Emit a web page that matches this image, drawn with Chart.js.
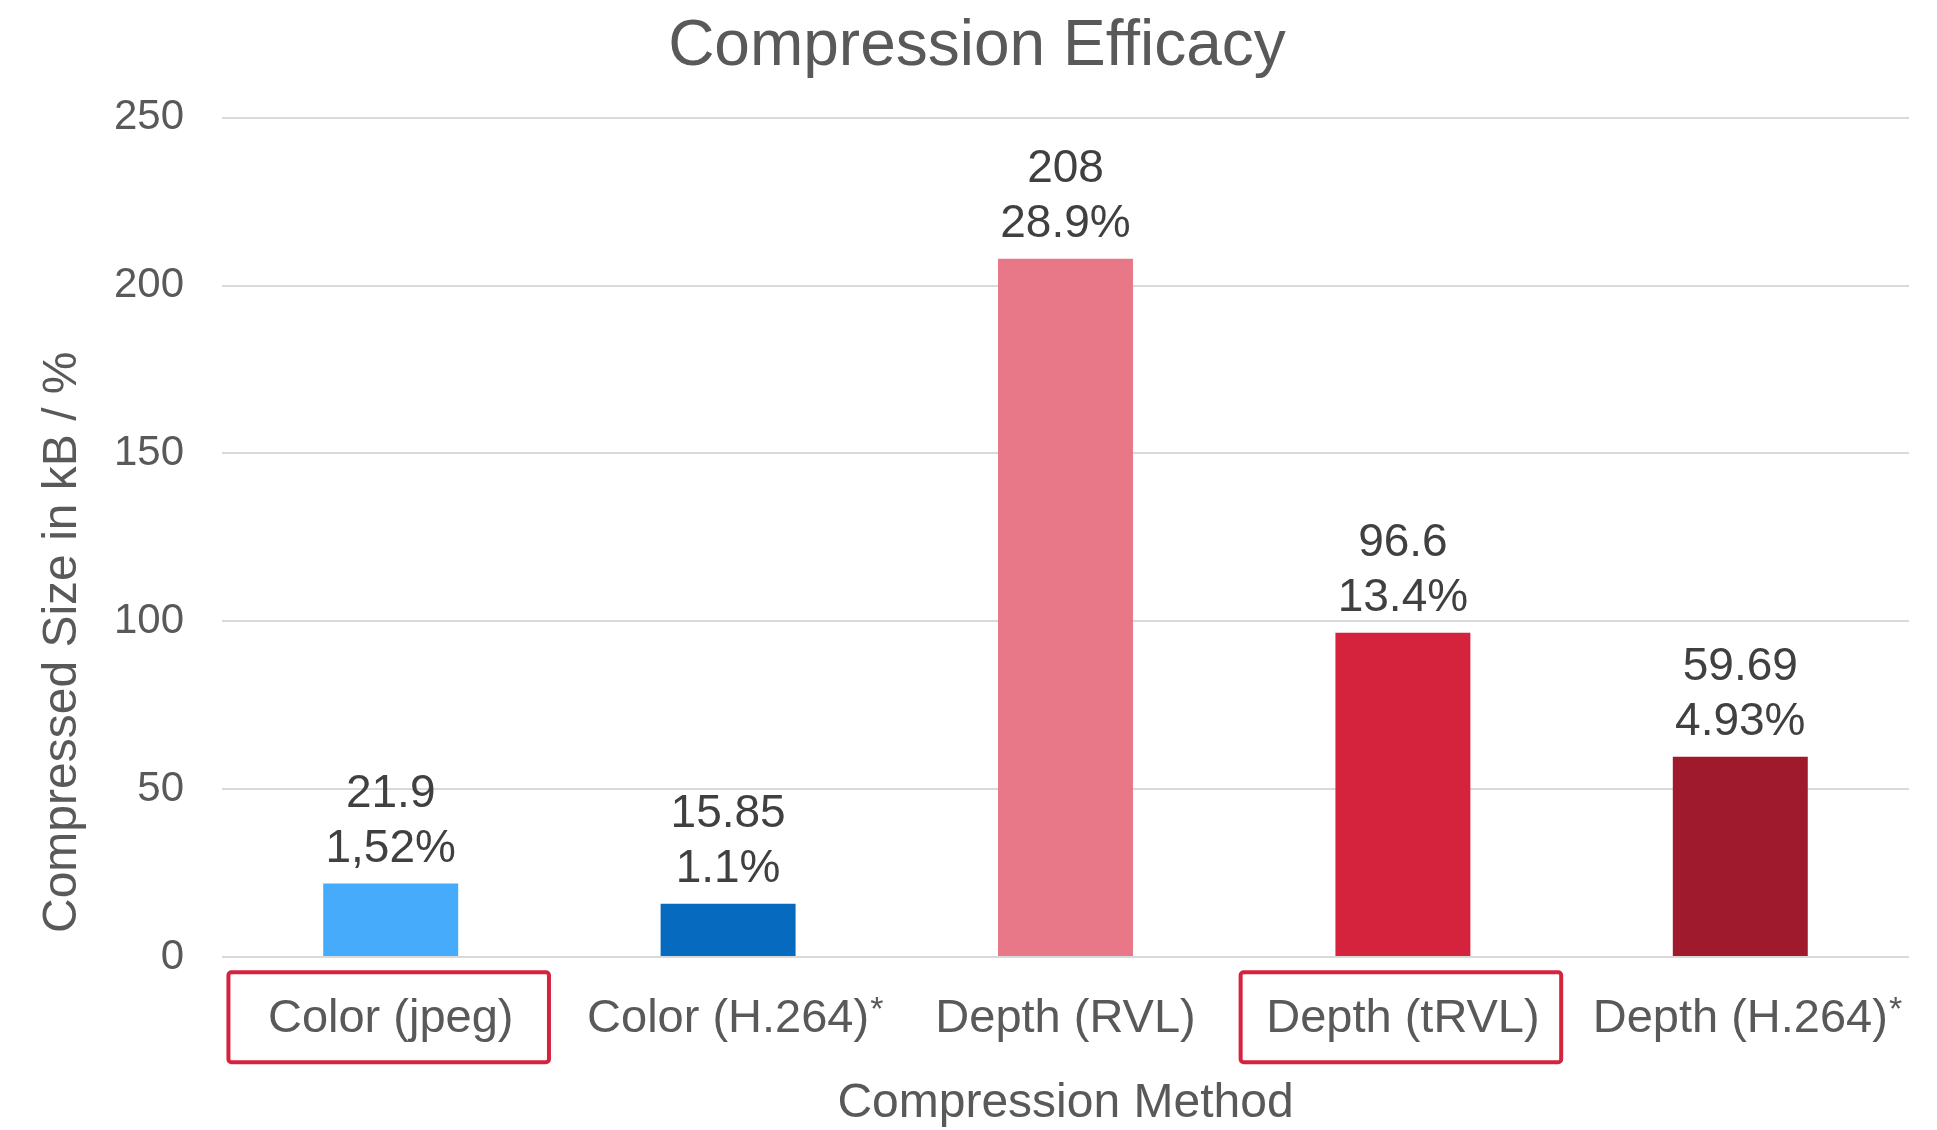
<!DOCTYPE html>
<html>
<head>
<meta charset="utf-8">
<title>Compression Efficacy</title>
<script src="https://cdn.jsdelivr.net/npm/chart.js@4"></script>
<style>
  html, body { margin: 0; padding: 0; background: #fff; }
  #wrap { width: 1937px; height: 1130px; position: relative; }
</style>
</head>
<body>
<div id="wrap"><canvas id="myChart"></canvas></div>
<script>
// data
const methods = ['Color (jpeg)', 'Color (H.264)*', 'Depth (RVL)', 'Depth (tRVL)', 'Depth (H.264)*'];
const sizes = [21.9, 15.85, 208, 96.6, 59.69];
const shares = ['1,52%', '1.1%', '28.9%', '13.4%', '4.93%'];
const barColors = ['#45ABFA', '#066ABE', '#E87887', '#D6233D', '#A01A2E'];
const boxed = ['Color (jpeg)', 'Depth (tRVL)'];
const yTicks = [0, 50, 100, 150, 200, 250];

const FONT = "'Liberation Sans', Arial, sans-serif";
const GREY = '#595959';

// value + percentage above bars, red boxes, superscript asterisks
const extras = {
  id: 'extras',
  afterDatasetsDraw(chart) {
    const ctx = chart.ctx;
    const meta = chart.getDatasetMeta(0);
    ctx.save();
    ctx.fillStyle = '#404040';
    ctx.font = '46px ' + FONT;
    ctx.textAlign = 'center';
    ctx.textBaseline = 'middle';
    meta.data.forEach((bar, i) => {
      ctx.fillText(String(sizes[i]), bar.x, bar.y - 89);
      ctx.fillText(shares[i], bar.x, bar.y - 34);
    });
    ctx.restore();
  },
  afterDraw(chart) {
    const ctx = chart.ctx;
    const x = chart.scales.x;
    const opts = x.options.ticks;
    const lh = 47 * 1.2;
    const midY = x.top + opts.padding + lh / 2;
    const catW = (x.right - x.left) / methods.length;
    ctx.save();
    methods.forEach((m, i) => {
      const cx = x.getPixelForValue(i);
      const label = m.replace('*', '');
      if (boxed.includes(m)) {
        const w = catW * 0.95, h = 90;
        ctx.strokeStyle = '#D6233D';
        ctx.lineWidth = 4;
        ctx.beginPath();
        ctx.roundRect(cx - 2 - w / 2, midY - 2 - h / 2, w, h, 3);
        ctx.stroke();
      }
      if (m.endsWith('*')) {
        ctx.font = '47px ' + FONT;
        const tw = ctx.measureText(label).width;
        ctx.font = '34px ' + FONT;
        ctx.fillStyle = GREY;
        ctx.textAlign = 'left';
        ctx.textBaseline = 'alphabetic';
        ctx.fillText('*', cx + tw / 2 + 1, midY + 1);
      }
    });
    ctx.restore();
  }
};

const ctx = document.getElementById('myChart').getContext('2d');
const chart = new Chart(ctx, {
  type: 'bar',
  data: {
    labels: methods,
    datasets: [{
      data: sizes,
      backgroundColor: barColors,
      borderWidth: 0,
      barPercentage: 0.4,
      categoryPercentage: 1.0
    }]
  },
  options: {
    responsive: true,
    maintainAspectRatio: false,
    devicePixelRatio: 1,
    animation: false,
    layout: { padding: { left: 17, right: 0, top: 0, bottom: 0 } },
    plugins: {
      legend: { display: false },
      tooltip: { enabled: false },
      title: {
        display: true,
        text: 'Compression Efficacy',
        color: GREY,
        font: { family: FONT, size: 64, weight: 'normal', lineHeight: 1.2 },
        padding: { top: 9, bottom: 32 }
      }
    },
    scales: {
      x: {
        grid: { display: false, drawTicks: false },
        border: { display: false },
        ticks: {
          color: GREY,
          padding: 34,
          maxRotation: 0,
          autoSkip: false,
          font: { family: FONT, size: 47, lineHeight: 1.2 },
          callback: (v, i) => methods[i].replace('*', '')
        },
        title: {
          display: true,
          text: 'Compression Method',
          color: GREY,
          font: { family: FONT, size: 48, lineHeight: 1.1 },
          padding: { top: 0, bottom: 0 }
        },
        afterFit: s => { s.height = 173; }
      },
      y: {
        min: 0,
        max: 250,
        afterBuildTicks: s => { s.ticks = yTicks.map(v => ({ value: v })); },
        grid: { color: '#D9D9D9', lineWidth: 2, drawTicks: false },
        border: { display: false },
        ticks: {
          color: GREY,
          padding: 38,
          font: { family: FONT, size: 42 }
        },
        title: {
          display: true,
          text: '\u2002Compressed Size in kB / %',
          align: 'start',
          color: GREY,
          font: { family: FONT, size: 48, lineHeight: 1.2 },
          padding: { top: 17, bottom: 0 }
        },
        afterFit: s => { s.width = 205; }
      },
      y2: {
        type: 'linear',
        position: 'right',
        grid: { display: false, drawTicks: false },
        border: { display: false },
        ticks: { display: false },
        afterFit: s => { s.width = 28; }
      }
    }
  },
  plugins: [extras]
});
</script>
</body>
</html>
